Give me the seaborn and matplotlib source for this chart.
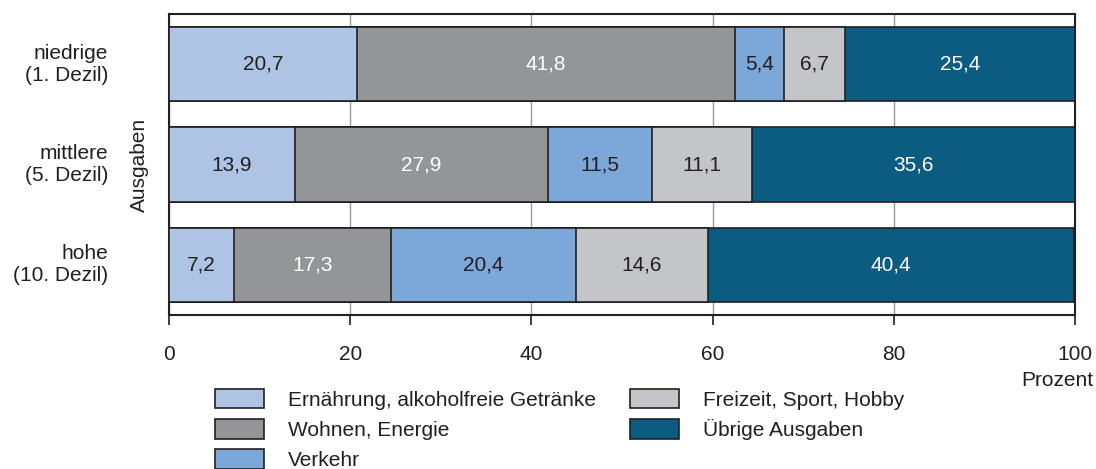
import matplotlib
matplotlib.use("Agg")
import matplotlib.pyplot as plt
import matplotlib.patches as mpatches
import seaborn as sns
import pandas as pd
import numpy as np

groups = ["niedrige\n(1. Dezil)", "mittlere\n(5. Dezil)", "hohe\n(10. Dezil)"]
categories = ["Ernährung, alkoholfreie Getränke", "Wohnen, Energie", "Verkehr",
              "Freizeit, Sport, Hobby", "Übrige Ausgaben"]
values = {
    "Ernährung, alkoholfreie Getränke": [20.7, 13.9, 7.2],
    "Wohnen, Energie": [41.8, 27.9, 17.3],
    "Verkehr": [5.4, 11.5, 20.4],
    "Freizeit, Sport, Hobby": [6.7, 11.1, 14.6],
    "Übrige Ausgaben": [25.4, 35.6, 40.4],
}
colors = ["#adc4e4", "#939598", "#7ba7d9", "#c4c5c8", "#0b5c80"]
text_colors = ["#231f20", "white", "#231f20", "#231f20", "white"]

sns.set_style("ticks")
plt.rcParams["font.family"] = ["Liberation Sans", "DejaVu Sans"]

rows = []
for g_i, g in enumerate(groups):
    cum = 0.0
    for c in categories:
        v = values[c][g_i]
        rows.append(dict(group=g, category=c, value=v, start=cum, end=cum + v))
        cum += v
df = pd.DataFrame(rows)

fig = plt.figure(figsize=(10.96, 4.69), dpi=100)
ax = fig.add_axes([169 / 1096, 1 - 315 / 469, (1075 - 169) / 1096, (315 - 14) / 469])

edge = "#231f20"
for i in range(len(categories) - 1, -1, -1):
    sub = df[df["category"] == categories[i]]
    sns.barplot(data=sub, x="end", y="group", order=groups, color=colors[i],
                width=0.74, edgecolor=edge, linewidth=1.2, saturation=1,
                ax=ax, zorder=3)

for i, c in enumerate(categories):
    sub = df[df["category"] == c]
    for g_i, g in enumerate(groups):
        r = sub[sub["group"] == g].iloc[0]
        ax.text((r["start"] + r["end"]) / 2, g_i, f"{r['value']:.1f}".replace(".", ","),
                ha="center", va="center", fontsize=15, color=text_colors[i], zorder=5)

ax.set_xlim(0, 100)
ax.set_ylim(2.5, -0.5)
ax.set_xticks([0, 20, 40, 60, 80, 100])
ax.xaxis.grid(True, color="#9a9a9a", linewidth=1)
ax.set_axisbelow(True)
for s in ax.spines.values():
    s.set_visible(True)
    s.set_color("#231f20")
    s.set_linewidth(1.5)
ax.tick_params(axis="x", direction="out", length=7.5, width=1.2, pad=14,
               labelsize=15, color="#231f20", labelcolor="#231f20", bottom=True)
ax.tick_params(axis="y", length=0, pad=44, labelsize=15, labelcolor="#231f20", left=False)
for lab in ax.get_yticklabels():
    lab.set_linespacing(1.2)
    lab.set_ha("right")
    lab.set_va("center")
ax.set_xlabel("")
ax.set_ylabel("")
ax.text(-0.033, 0.5, "Ausgaben", transform=ax.transAxes, rotation=90,
        ha="center", va="center", fontsize=15, color="#231f20")

fig.text(1093 / 1096, 1 - 380 / 469, "Prozent", ha="right", va="center",
         fontsize=15, color="#231f20")

handles = [mpatches.Patch(facecolor=colors[i], edgecolor=edge, linewidth=1.2, label=c)
           for i, c in enumerate(categories)]
leg = fig.legend(handles=handles, ncol=2, loc="upper left",
                 bbox_to_anchor=(215 / 1096, 1 - 389 / 469), frameon=False,
                 fontsize=15, handlelength=2.35, handleheight=1.06, handletextpad=1.15,
                 labelspacing=0.45, columnspacing=1.65, borderpad=0, borderaxespad=0)
for t in leg.get_texts():
    t.set_color("#231f20")

fig.savefig("out.png", dpi=100)
